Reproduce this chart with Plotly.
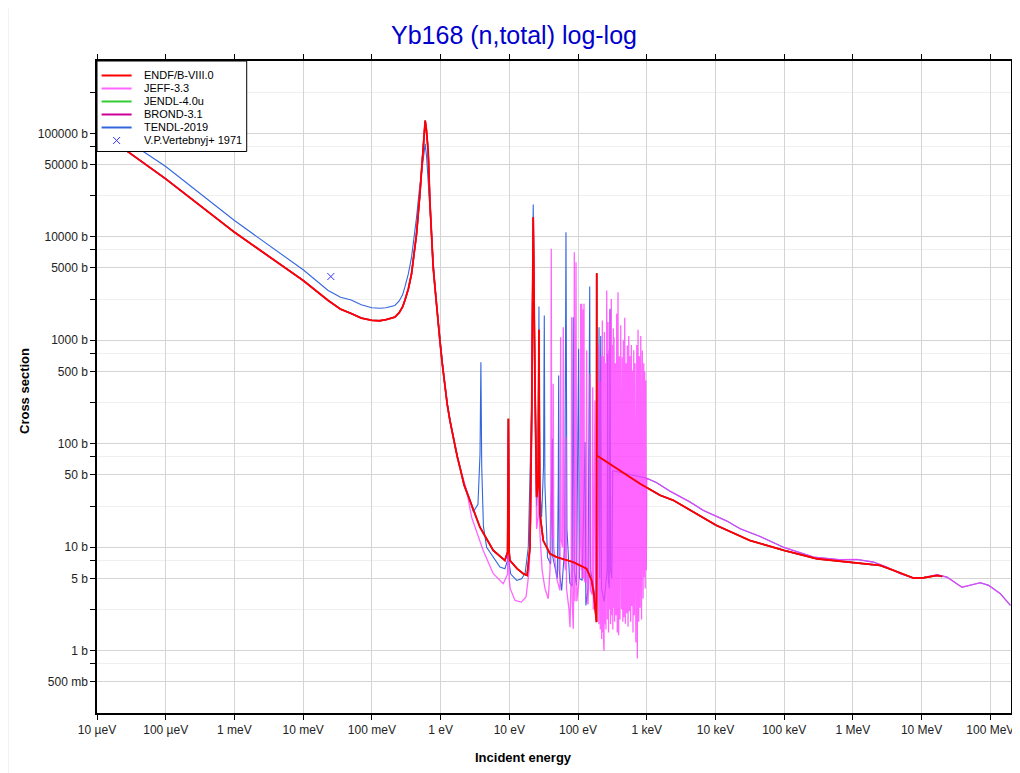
import plotly.graph_objects as go

# ---------------- data ----------------
ENDF_E = [1e-5, 1e-4, 1e-3, 1e-2, 0.0231, 0.035, 0.05, 0.07, 0.1, 0.13, 0.16, 0.19, 0.216, 0.25, 0.28,
          0.302, 0.34, 0.378, 0.41, 0.447, 0.50, 0.547, 0.575, 0.597, 0.62, 0.64,
          0.659, 0.698, 0.73, 0.78, 0.83, 0.875, 0.977, 1.05, 1.155, 1.25, 1.366, 1.5, 1.616, 1.75,
          1.91, 2.2, 2.67, 3.74, 5.84, 8.63,
          9.45, 9.7, 9.95, 10.2, 13.0, 15.96, 18.2, 20.0, 21.2, 22.3, 23.6, 25.0, 26.3, 27.0, 27.6,
          27.9, 31.2, 39.1, 48.9, 85.3, 133.6, 158, 170, 178.6, 186, 187.1, 188,
          800, 1563, 2443, 7480, 10230, 32000, 1e5, 2.99e5, 1.02e6, 2.5e6, 3.91e6, 7.64e6,
          1.07e7, 1.68e7, 2.0e7]
ENDF_XS = [108900, 36300, 11070, 3785, 2426, 2000, 1815, 1640, 1560, 1545, 1580, 1630, 1672, 1850, 2100,
           2426, 3150, 4395, 6500, 10690, 26000, 63400, 100000, 133000, 110000, 90000,
           68200, 22400, 11000, 5085, 3200, 2090, 995, 620, 352, 240, 168, 120, 92.7, 75,
           59.4, 40, 28.3, 15.6, 9.31, 7.45,
           9.0, 174, 9.0, 7.45, 6.2, 5.55, 5.34, 10, 195, 15460, 409, 30.5, 40, 1262, 50,
           21, 11.6, 8.65, 8.02, 7.18, 6.2, 4.78, 3.5, 2.28, 1.89, 4450, 77.1,
           41.1, 31.8, 28.4, 18.2, 16.3, 11.6, 9.31, 7.74, 7.08, 6.67, 5.97, 5.03,
           5.07, 5.34, 5.22]

# JENDL-4.0u and BROND-3.1 lie under the ENDF/B-VIII.0 curve everywhere in the picture
JENDL_E = list(ENDF_E)
JENDL_XS = list(ENDF_XS)
BROND_E = list(ENDF_E)
BROND_XS = list(ENDF_XS)

# smooth high-energy part shared by JEFF-3.3 and TENDL-2019 (violet line)
TAIL_E = [1000, 1400, 2186, 4276, 6680, 14640, 22860, 44700, 97700, 267000, 654000, 1146000,
          2000000, 3130000, 4900000, 7640000, 10700000, 16800000, 23400000, 38700000,
          71600000, 94500000, 140000000, 196000000]
TAIL_XS = [46.5, 42.0, 34.8, 27.3, 22.7, 17.9, 15.1, 12.7, 10.0, 8.02, 7.57, 7.62,
           7.18, 6.42, 5.55, 5.03, 5.07, 5.42, 5.14, 4.11,
           4.54, 4.28, 3.56, 2.74]

JEFF_RES_E = [1e-5, 1e-4, 1e-3, 1e-2, 0.0231, 0.035, 0.05, 0.07, 0.1, 0.13, 0.16, 0.19, 0.216, 0.25, 0.28,
              0.302, 0.34, 0.378, 0.41, 0.447, 0.50, 0.547, 0.575, 0.597, 0.62, 0.64,
              0.659, 0.698, 0.73, 0.78, 0.83, 0.875, 0.977, 1.05, 1.155, 1.25, 1.366, 1.5, 1.616, 1.75,
              1.91, 2.39, 2.83, 4.17, 5.84, 8.16,
              9.45, 9.7, 9.95, 10.3, 12.1, 15.0, 17.5, 19.5, 20.5, 21.2, 22.3, 23.6, 25.0, 26.3, 27.0,
              27.7, 30.0, 33.0, 36.9, 39.1, 40.2, 40.8, 41.4, 42.8, 43.6, 44.4, 48.9, 54.6, 55.3, 55.9,
              56.8, 59.5, 61.1, 62.7, 65.8, 66.8, 68.0, 73.9, 76.4, 79.5, 80.9, 82.3, 85.3, 87.2, 88.3,
              90.5, 93.5, 96.0, 103.3, 108, 109.4, 110.8, 113, 114.5, 117, 118.5, 120, 122.2, 124,
              129.4, 133.7, 136, 139.7, 144, 149.4, 152, 160, 163.6, 167, 176.7, 180, 189, 197.3,
              201, 206.9, 211, 216.2, 221, 225.9, 230, 233.6, 236, 239, 242, 246, 249.6, 255, 261.6,
              268, 273.4, 278, 282.6, 287, 292.2, 298, 305.2, 310, 315.6, 321, 326.4, 330, 334.2,
              341, 349.1, 357, 365.7, 373, 382, 390, 399, 408, 418.6, 430, 441.6, 449, 456.4, 467,
              478.2, 489, 499.8, 511, 522.4, 535, 547.5, 559, 571.6, 584, 597.2, 607, 617.2, 631,
              646.7, 660, 675.6, 695, 715.9, 730, 747.6, 765, 781.3, 800, 818.6, 840, 863.7, 885,
              905.6, 920, 935.5, 950, 967.4, 985]
JEFF_RES_XS = [108900, 36300, 11070, 3785, 2426, 2000, 1815, 1640, 1560, 1545, 1580, 1630, 1672, 1850, 2100,
               2426, 3150, 4395, 6500, 10690, 26000, 63400, 98000, 130000, 108000, 88000,
               68200, 22400, 11000, 5085, 3200, 2090, 995, 620, 352, 240, 168, 120, 92.7, 75,
               59.4, 35.4, 19.5, 9.31, 5.55, 4.44,
               5.5, 150, 5.0, 4.0, 3.06, 2.95, 3.3, 6.0, 20, 150, 14000, 300, 15, 20, 900,
               15, 6.0, 4.0, 3.18, 6.0, 40, 7660, 30, 12, 380, 10, 5.0, 3.83, 20, 1072,
               12, 10, 1339, 8.0, 6.0, 116, 4.0, 2.5, 1.69, 6.0, 1672, 3.0, 1.63, 6.0, 7100,
               3.0, 5690, 3.0, 4.78, 20, 2254, 6.0, 2254, 5.0, 6.0, 2000, 5.0, 2254, 4.78,
               4.5, 797, 3.0, 2.8, 5.0, 474, 3.83, 3.5, 352, 2.5, 262, 2.2, 3.0, 900,
               1.8, 400, 1.6, 700, 1.3, 1553, 1.5, 700, 1.2, 1.0, 1200, 1.8, 600, 1.6, 3030,
               2.0, 1500, 1.5, 800, 2.5, 1941, 1.8, 2500, 2.2, 900, 1.6, 1300, 2.6, 1072,
               1.9, 600, 2.2, 1800, 1.5, 2915, 1.41, 700, 2.0, 1400, 2.5, 687, 1.9, 1000, 2.1,
               1648, 1.82, 600, 2.3, 891, 1.7, 1100, 2.4, 700, 1.9, 900, 2.7, 511, 1.5,
               800, 2.2, 600, 1.2, 900, 0.84, 1262, 1.9, 700, 2.6, 1100, 2.0, 797, 3.2,
               600, 5.14, 500, 4.0, 409, 6.0]

TENDL_RES_E = [1e-5, 1e-4, 1e-3, 1e-2, 0.0231, 0.035, 0.05, 0.07, 0.1, 0.13, 0.16, 0.19, 0.216, 0.25, 0.28,
               0.302, 0.34, 0.378, 0.41, 0.447, 0.49, 0.529, 0.565, 0.597, 0.625,
               0.659, 0.74, 0.8, 0.875, 0.977, 1.05, 1.155, 1.25, 1.366, 1.5, 1.616, 1.75, 1.91, 2.2, 2.67,
               3.0, 3.5, 3.75, 3.86, 3.97,
               4.2, 4.68, 7.31, 8.63, 9.45, 9.7, 9.95, 10.5, 12.8, 15.1, 17.0, 18.9, 21.2, 22.3, 23.6,
               25.0, 26.3, 27.0, 27.7, 29.5, 31.5, 32.3, 33.0, 36.0, 40.0, 41.6, 42.2, 43.0, 50.0,
               51.6, 52.3, 53.2, 57.8, 64.0, 66.8, 69.0, 76.0, 82.0, 85.3, 88.0, 95.0, 102, 105, 115,
               126.5, 130, 140, 148, 152, 165, 180, 190, 197, 202, 207, 214, 220, 240, 265, 270, 275,
               285, 292, 298, 310, 320]
TENDL_RES_XS = [133000, 47800, 14360, 4800, 3030, 2600, 2450, 2200, 2060, 2040, 2060, 2110, 2170, 2400, 2750,
                3260, 4400, 6350, 9500, 15460, 28000, 43700, 66000, 79200, 60000,
                32500, 10690, 4600, 2200, 1050, 650, 360, 245, 170, 122, 94, 76, 60, 41, 29,
                22, 26, 80, 614, 60,
                16, 10, 6.42, 6.2, 7.5, 150, 7.0, 5.5, 4.78, 4.96, 5.6, 10, 250, 20500, 400,
                25, 60, 2120, 40, 19.5, 60, 1738, 40, 8.0, 6.9, 30, 112, 8.0, 5.0,
                40, 457, 6.0, 3.83, 10, 11090, 15, 4.5, 4.2, 1672, 6.0, 4.3, 828, 5.0, 4.78,
                103.7, 2.74, 4.0, 3310, 6.0, 4.5, 3.0, 5.0, 20, 1339, 5.0, 1100, 4.0, 3.0, 6.0, 740, 5.0,
                4.0, 2015, 6.0, 5.0, 55]

JEFF_E = JEFF_RES_E + TAIL_E
JEFF_XS = JEFF_RES_XS + TAIL_XS
TENDL_E = TENDL_RES_E + TAIL_E
TENDL_XS = TENDL_RES_XS + TAIL_XS

EXP_E = [0.0253]
EXP_XS = [4130]

X_TICK_VALS = [1e-5, 1e-4, 1e-3, 1e-2, 1e-1, 1, 10, 100, 1e3, 1e4, 1e5, 1e6, 1e7, 1e8]
X_TICK_TEXT = ['10 µeV', '100 µeV', '1 meV', '10 meV', '100 meV', '1 eV', '10 eV', '100 eV',
               '1 keV', '10 keV', '100 keV', '1 MeV', '10 MeV', '100 MeV']
Y_TICK_VALS = [0.5, 1, 5, 10, 50, 100, 500, 1000, 5000, 10000, 50000, 100000]
Y_TICK_TEXT = ['500 mb', '1 b', '5 b', '10 b', '50 b', '100 b', '500 b', '1000 b', '5000 b',
               '10000 b', '50000 b', '100000 b']
Y_MINOR_VALS = [0.75, 2.5, 7.5, 25, 75, 250, 750, 2500, 7500, 25000, 75000, 250000]

LEGEND_NAMES = ['ENDF/B-VIII.0', 'JEFF-3.3', 'JENDL-4.0u', 'BROND-3.1', 'TENDL-2019', 'V.P.Vertebnyj+ 1971']

# ---------------- styles / layout geometry ----------------
C_ENDF = '#ff0000'
C_JEFF = 'rgb(255,64,255)'
C_JENDL = '#33cc33'
C_BROND = '#cc0099'
C_TENDL = '#3366dd'
C_EXP = '#3333ff'
FONT = 'Liberation Sans, Arial, sans-serif'

W, H = 1020, 773
OFF = 8  # page offset of the figure (body margin)
ML, MR, MT, MB = 89.4, 17.3, 52.5, 68.4

fig = go.Figure()
fig.add_trace(go.Scatter(x=TENDL_E, y=TENDL_XS, mode='lines', name=LEGEND_NAMES[4],
                         line=dict(color=C_TENDL, width=1.1), showlegend=False, hoverinfo='skip'))
fig.add_trace(go.Scatter(x=JENDL_E, y=JENDL_XS, mode='lines', name=LEGEND_NAMES[2],
                         line=dict(color=C_JENDL, width=1.5), showlegend=False, hoverinfo='skip'))
fig.add_trace(go.Scatter(x=BROND_E, y=BROND_XS, mode='lines', name=LEGEND_NAMES[3],
                         line=dict(color=C_BROND, width=1.5), showlegend=False, hoverinfo='skip'))
fig.add_trace(go.Scatter(x=JEFF_E, y=JEFF_XS, mode='lines', name=LEGEND_NAMES[1], opacity=0.8,
                         line=dict(color=C_JEFF, width=1.3), showlegend=False, hoverinfo='skip'))
fig.add_trace(go.Scatter(x=ENDF_E, y=ENDF_XS, mode='lines', name=LEGEND_NAMES[0],
                         line=dict(color=C_ENDF, width=1.8), showlegend=False, hoverinfo='skip'))
fig.add_trace(go.Scatter(x=EXP_E, y=EXP_XS, mode='markers', name=LEGEND_NAMES[5],
                         marker=dict(symbol='x-thin', size=7, color=C_EXP, line=dict(color=C_EXP, width=1)),
                         showlegend=False, hoverinfo='skip'))


def px2x(px):
    return (px - OFF - ML) / (W - ML - MR)


def px2y(py):
    return (H - MB - (py - OFF)) / (H - MT - MB)


# ---------------- legend drawn as layout decoration ----------------
shapes = [dict(type='line', xref='paper', yref='paper', x0=px2x(8.5), x1=px2x(8.5),
               y0=px2y(781), y1=px2y(8), line=dict(color='#e6e6e6', width=1), layer='below'),
          dict(type='rect', xref='paper', yref='paper', x0=px2x(97.4), x1=px2x(247),
               y0=px2y(151), y1=px2y(60.5), line=dict(color='black', width=1), fillcolor='white',
               layer='above')]
annotations = []
leg_colors = [C_ENDF, 'rgb(255,102,255)', C_JENDL, C_BROND, C_TENDL]
leg_y = [75, 88, 101, 114, 127, 140]
for i, name in enumerate(LEGEND_NAMES):
    yy = px2y(leg_y[i])
    if i < 5:
        shapes.append(dict(type='line', xref='paper', yref='paper', x0=px2x(102), x1=px2x(132),
                           y0=yy, y1=yy, line=dict(color=leg_colors[i], width=2), layer='above'))
    else:
        for a, b in ((-3.5, 3.5), (3.5, -3.5)):
            shapes.append(dict(type='line', xref='paper', yref='paper', x0=px2x(117 - 3.5),
                               x1=px2x(117 + 3.5), y0=px2y(leg_y[i] + a), y1=px2y(leg_y[i] + b),
                               line=dict(color=C_EXP, width=1), layer='above'))
    annotations.append(dict(text=name, xref='paper', yref='paper', x=px2x(142), y=yy,
                            xanchor='left', yanchor='middle', showarrow=False,
                            font=dict(family=FONT, size=11, color='black')))

annotations.append(dict(text='<b>Incident energy</b>', xref='paper', yref='paper', x=px2x(524), y=px2y(757),
                        xanchor='center', yanchor='middle', showarrow=False,
                        font=dict(family=FONT, size=13, color='black')))
annotations.append(dict(text='<b>Cross section</b>', xref='paper', yref='paper', x=px2x(25), y=px2y(391),
                        xanchor='center', yanchor='middle', showarrow=False, textangle=-90,
                        font=dict(family=FONT, size=13, color='black')))

fig.update_layout(
    width=W, height=H,
    margin=dict(l=ML, r=MR, t=MT, b=MB),
    paper_bgcolor='white', plot_bgcolor='white',
    showlegend=False,
    title=dict(text='Yb168 (n,total) log-log', x=(514 - OFF) / W, xanchor='center', y=1 - (35 - OFF) / H,
               yanchor='middle', yref='container',
               font=dict(family=FONT, size=25, color='#0000cc')),
    shapes=shapes,
    annotations=annotations,
    xaxis=dict(type='log', range=[-5, 8.301], tickvals=X_TICK_VALS, ticktext=X_TICK_TEXT,
               showgrid=True, gridcolor='#d4d4d4', gridwidth=1,
               showline=True, linecolor='black', linewidth=1.5, mirror='ticks',
               ticks='outside', ticklen=5, tickcolor='black', automargin=False,
               tickfont=dict(family=FONT, size=12, color='#222')),
    yaxis=dict(type='log', range=[-0.60206, 5.69897], tickvals=Y_TICK_VALS, ticktext=Y_TICK_TEXT,
               showgrid=True, gridcolor='#d4d4d4', gridwidth=1,
               showline=True, linecolor='black', linewidth=1.5, mirror='ticks',
               ticks='outside', ticklen=5, tickcolor='black', automargin=False,
               minor=dict(tickvals=Y_MINOR_VALS, ticks='outside', ticklen=5, tickcolor='black',
                          showgrid=True, gridcolor='#efefef', gridwidth=1),
               tickfont=dict(family=FONT, size=12, color='#222')),
)

fig.write_html('out.html')
